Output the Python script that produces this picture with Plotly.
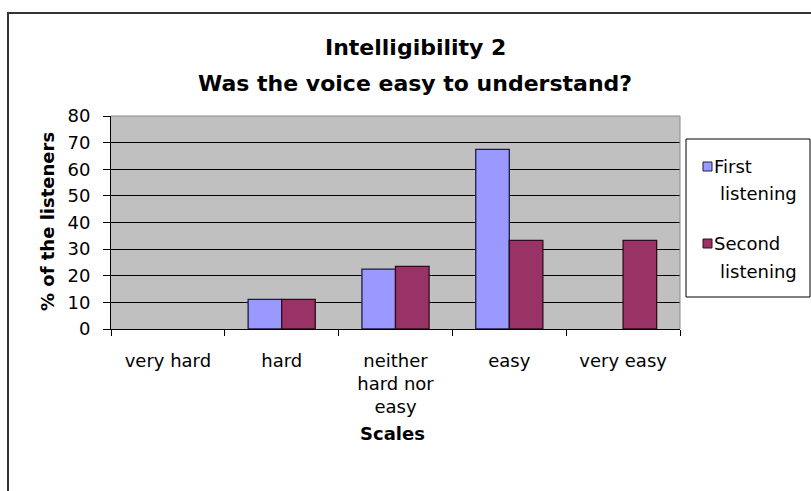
import plotly.graph_objects as go

# Response categories and the share of listeners choosing each one
categories = ["very hard", "hard", "neither<br>hard nor<br>easy", "easy", "very easy"]
first_listening = [0, 11.1, 22.5, 67.5, 0]
second_listening = [0, 11.1, 23.5, 33.3, 33.3]
y_ticks = [0, 10, 20, 30, 40, 50, 60, 70, 80]
series_names = ["First listening", "Second listening"]
series_colors = ["#9999FF", "#993366"]
outline_colors = ["#1c1c44", "#2e0c1c"]

SANS = "DejaVu Sans, Verdana, sans-serif"
W, H = 811, 491
L, R, T, B = 111, 131, 116, 162
PW, PH = W - L - R, H - T - B


def px_x(x):
    """Pixel column -> paper x."""
    return (x - L) / PW


def px_y(y):
    """Pixel row -> paper y."""
    return (H - B - y) / PH


fig = go.Figure()
for name, vals, col, ocol in zip(series_names, [first_listening, second_listening],
                                 series_colors, outline_colors):
    fig.add_trace(go.Bar(
        x=categories, y=vals, name=name,
        marker=dict(color=col,
                    line=dict(color=ocol, width=[1.3 if v > 0 else 0 for v in vals])),
        showlegend=False,
    ))

fig.update_layout(
    width=W, height=H,
    margin=dict(l=L, r=R, t=T, b=B),
    paper_bgcolor="white",
    plot_bgcolor="#C0C0C0",
    barmode="group",
    bargap=0.41,
    bargroupgap=0,
    font=dict(family=SANS, size=18, color="black"),
    xaxis=dict(
        type="category",
        showline=True, linecolor="black", linewidth=1,
        ticks="outside", ticklen=6, tickcolor="black",
        tickson="boundaries",
        showgrid=False,
        tickfont=dict(family=SANS, size=18),
        ticklabelstandoff=15,
    ),
    yaxis=dict(
        range=[0, 80],
        tickvals=y_ticks,
        showline=True, linecolor="black", linewidth=1,
        ticks="outside", ticklen=7, tickcolor="black",
        showgrid=True, gridcolor="black", gridwidth=1,
        zeroline=False,
        tickfont=dict(family=SANS, size=18),
        ticklabelstandoff=9,
    ),
)

# Plot-area edge (top and right) in grey
fig.add_shape(type="line", xref="paper", yref="paper", x0=0, x1=1, y0=1, y1=1,
              line=dict(color="#8a8a8a", width=1), layer="above")
fig.add_shape(type="line", xref="paper", yref="paper", x0=1, x1=1, y0=0, y1=1,
              line=dict(color="#8a8a8a", width=1), layer="above")

# Outer chart frame
fig.add_shape(
    type="rect", xref="paper", yref="paper",
    x0=px_x(8), x1=px_x(830), y0=px_y(520), y1=px_y(13),
    line=dict(color="#333333", width=2),
    fillcolor="rgba(0,0,0,0)", layer="below",
)

# Title lines
title_font = dict(family=SANS, size=22, color="black")
fig.add_annotation(text="<b>Intelligibility 2</b>", xref="paper", yref="paper",
                   x=px_x(415), y=px_y(47), xanchor="center", yanchor="middle",
                   showarrow=False, font=title_font)
fig.add_annotation(text="<b>Was the voice easy to understand?</b>", xref="paper", yref="paper",
                   x=px_x(415), y=px_y(83), xanchor="center", yanchor="middle",
                   showarrow=False, font=title_font)

# Axis titles
axis_font = dict(family=SANS, size=18, color="black")
fig.add_annotation(text="<b>% of the listeners</b>", xref="paper", yref="paper",
                   x=px_x(47), y=px_y(222), xanchor="center", yanchor="middle",
                   textangle=-90, showarrow=False, font=axis_font)
fig.add_annotation(text="<b>Scales</b>", xref="paper", yref="paper",
                   x=px_x(392), y=px_y(433), xanchor="center", yanchor="middle",
                   showarrow=False, font=axis_font)

# Legend box with swatches
fig.add_shape(type="rect", xref="paper", yref="paper",
              x0=px_x(686), x1=px_x(810), y0=px_y(297), y1=px_y(139),
              line=dict(color="black", width=1), fillcolor="white", layer="above")
legend_rows = [(166, 193), (243, 271)]
legend_font = dict(family=SANS, size=18, color="black")
for name, col, ocol, (y1, y2) in zip(series_names, series_colors, outline_colors, legend_rows):
    first_word, second_word = name.split(" ")
    fig.add_shape(type="rect", xref="paper", yref="paper",
                  x0=px_x(703), x1=px_x(712), y0=px_y(y1 + 5), y1=px_y(y1 - 4),
                  line=dict(color=ocol, width=1), fillcolor=col, layer="above")
    fig.add_annotation(text=first_word, xref="paper", yref="paper",
                       x=px_x(712), y=px_y(y1), xanchor="left", yanchor="middle",
                       showarrow=False, font=legend_font)
    fig.add_annotation(text=second_word, xref="paper", yref="paper",
                       x=px_x(718), y=px_y(y2), xanchor="left", yanchor="middle",
                       showarrow=False, font=legend_font)

fig.write_html("out.html")
